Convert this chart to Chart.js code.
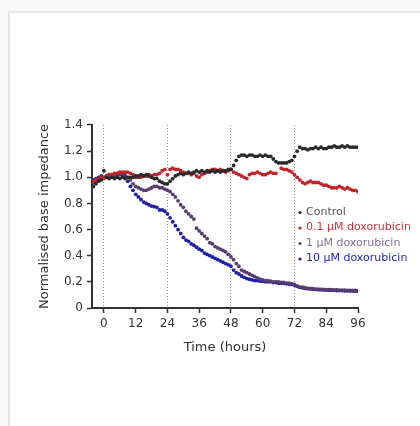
<!DOCTYPE html>
<html>
<head>
<meta charset="utf-8">
<script src="https://cdn.jsdelivr.net/npm/chart.js@4/dist/chart.umd.min.js"></script>
<style>
  html, body { margin: 0; padding: 0; background: #f8f8f8; overflow: hidden; }
  #panel { position: absolute; left: 8px; top: 11px; width: 430px; height: 430px;
           background: #ffffff; border-left: 2px solid #e4e7e6; border-top: 2px solid #e4e7e6; }
  #c { position: absolute; left: 0; top: 0; }
</style>
</head>
<body>
<div id="panel"></div>
<canvas id="c" width="420" height="426"></canvas>
<script>
// ---- data (time in hours, normalised base impedance) ----
const times = [-4,-3,-2,-1,0,1,2,3,4,5,6,7,8,9,10,11,12,13,14,15,16,17,18,19,20,21,22,23,24,25,26,27,28,29,30,31,32,33,34,35,36,37,38,39,40,41,42,43,44,45,46,47,48,49,50,51,52,53,54,55,56,57,58,59,60,61,62,63,64,65,66,67,68,69,70,71,72,73,74,75,76,77,78,79,80,81,82,83,84,85,86,87,88,89,90,91,92,93,94,95,96];

const control = [0.93,0.95,0.97,0.98,1.05,1.00,0.99,1.00,0.99,1.00,0.99,1.00,0.99,1.00,1.00,1.00,1.01,1.01,1.02,1.01,1.02,1.01,1.00,0.99,0.99,0.97,0.96,0.95,0.95,0.97,0.99,1.01,1.02,1.03,1.02,1.03,1.04,1.03,1.04,1.05,1.04,1.05,1.04,1.05,1.04,1.05,1.04,1.05,1.04,1.05,1.05,1.06,1.06,1.09,1.13,1.16,1.17,1.17,1.16,1.17,1.17,1.16,1.16,1.17,1.16,1.17,1.16,1.16,1.14,1.12,1.11,1.11,1.11,1.11,1.12,1.13,1.16,1.20,1.23,1.22,1.22,1.21,1.22,1.22,1.23,1.22,1.23,1.22,1.22,1.23,1.23,1.24,1.23,1.23,1.24,1.23,1.24,1.23,1.23,1.23,1.23];

const dox01 = [0.97,0.98,0.99,1.00,0.99,1.01,1.02,1.02,1.03,1.03,1.04,1.04,1.04,1.04,1.03,1.02,1.00,1.00,1.00,1.01,1.01,1.02,1.01,1.02,1.02,1.03,1.05,1.06,1.02,1.06,1.07,1.06,1.06,1.05,1.04,1.03,1.03,1.02,1.03,1.01,1.00,1.02,1.03,1.04,1.05,1.06,1.06,1.05,1.06,1.05,1.04,1.05,1.06,1.04,1.03,1.02,1.01,1.00,0.99,1.02,1.03,1.03,1.04,1.03,1.02,1.02,1.03,1.04,1.03,1.03,null,1.07,1.06,1.06,1.05,1.04,1.02,1.00,0.98,0.96,0.95,0.96,0.97,0.96,0.96,0.96,0.95,0.94,0.94,0.93,0.92,0.92,0.92,0.93,0.92,0.91,0.92,0.91,0.90,0.90,0.89];

const dox1 = [0.96,0.97,0.99,0.99,1.00,1.00,1.01,1.00,1.01,1.01,1.02,1.03,1.02,1.00,0.98,0.95,0.93,0.92,0.91,0.90,0.90,0.91,0.92,0.93,0.93,0.92,0.92,0.91,0.90,0.89,0.87,0.85,0.82,0.79,0.77,0.74,0.72,0.70,0.68,0.61,0.59,0.57,0.55,0.53,0.50,0.49,0.47,0.46,0.45,0.44,0.43,0.41,0.39,0.37,0.34,0.32,0.29,0.28,0.27,0.26,0.25,0.24,0.23,0.22,0.215,0.21,0.21,0.205,0.20,0.20,0.20,0.195,0.195,0.19,0.19,0.185,0.18,0.17,0.16,0.16,0.155,0.15,0.15,0.148,0.145,0.145,0.143,0.142,0.14,0.14,0.14,0.138,0.138,0.137,0.136,0.136,0.135,0.135,0.134,0.134,0.133];

const dox10 = [0.98,0.99,1.00,1.01,1.00,1.01,1.02,1.02,1.02,1.03,1.03,1.02,1.00,0.97,0.93,0.90,0.87,0.85,0.83,0.81,0.80,0.79,0.78,0.775,0.77,0.75,0.75,0.74,0.72,0.69,0.66,0.63,0.60,0.57,0.54,0.52,0.51,0.49,0.48,0.465,0.45,0.44,0.42,0.41,0.40,0.39,0.38,0.37,0.36,0.35,0.34,0.33,0.32,0.29,0.27,0.26,0.245,0.235,0.225,0.22,0.215,0.21,0.21,0.205,0.205,0.20,0.20,0.20,0.195,0.195,0.19,0.19,0.188,0.185,0.183,0.18,0.175,0.165,0.158,0.155,0.15,0.148,0.146,0.144,0.142,0.14,0.14,0.138,0.137,0.136,0.135,0.135,0.134,0.133,0.133,0.132,0.132,0.131,0.131,0.13,0.13];

const seriesNames = ['Control', '0.1 \u03bcM doxorubicin', '1 \u03bcM doxorubicin', '10 \u03bcM doxorubicin'];
const xTicks = [0, 12, 24, 36, 48, 60, 72, 84, 96];
const markerLines = [0, 24, 48, 72];
const yTickLabels = ['0', '0.2', '0.4', '0.6', '0.8', '1.0', '1.2', '1.4'];

// ---- styling ----
const pointColors = ['#2a2a2a', '#c1242c', '#573c70', '#1d1fa6'];
const textColors = ['#555555', '#cf2f38', '#866f95', '#2326b5'];
const FONT = "'DejaVu Sans', sans-serif";

const toPoints = vals => times.map((t, i) => ({ x: t, y: vals[i] })).filter(p => p.y !== null);

const datasets = [control, dox01, dox1, dox10].map((vals, i) => ({
  label: seriesNames[i],
  data: toPoints(vals),
  showLine: false,
  pointRadius: 1.9,
  pointBorderWidth: 0,
  pointBackgroundColor: pointColors[i],
  borderColor: pointColors[i],
  backgroundColor: pointColors[i]
}));

const legendPlugin = {
  id: 'innerLegend',
  afterDatasetsDraw(chart) {
    const ctx = chart.ctx;
    ctx.save();
    ctx.font = '11px ' + FONT;
    ctx.textBaseline = 'middle';
    chart.data.datasets.forEach((ds, i) => {
      const y = 212 + i * 15.5;
      ctx.fillStyle = pointColors[i];
      ctx.beginPath();
      ctx.arc(300, y + 0.5, 1.6, 0, Math.PI * 2);
      ctx.fill();
      ctx.fillStyle = textColors[i];
      ctx.fillText(ds.label, 306, y);
    });
    ctx.restore();
  }
};

new Chart(document.getElementById('c'), {
  type: 'scatter',
  data: { datasets },
  plugins: [legendPlugin],
  options: {
    responsive: false,
    animation: false,
    devicePixelRatio: 1,
    layout: { padding: { left: 0, top: 125, right: 62, bottom: 60 } },
    plugins: { legend: { display: false }, tooltip: { enabled: false } },
    scales: {
      x: {
        type: 'linear',
        min: -4.5,
        max: 96,
        afterBuildTicks: s => { s.ticks = xTicks.map(v => ({ value: v })); },
        afterFit: s => { s.height = 58; },
        grid: {
          drawOnChartArea: true,
          color: c => (c.tick && markerLines.includes(c.tick.value)) ? '#9c9c9c' : 'rgba(0,0,0,0)',
          lineWidth: 1,
          tickLength: 5,
          tickColor: '#333333',
          tickWidth: 1.5
        },
        border: { display: true, color: '#333333', width: 2, dash: [1, 2] },
        ticks: { color: '#333333', font: { family: FONT, size: 12 }, padding: 4, maxRotation: 0, autoSkip: false },
        title: { display: true, text: 'Time (hours)', color: '#333333', font: { family: FONT, size: 13 }, padding: { top: 0, bottom: 11 } }
      },
      y: {
        type: 'linear',
        min: 0,
        max: 1.4,
        afterBuildTicks: s => { s.ticks = yTickLabels.map((l, i) => ({ value: i * 0.2 })); },
        afterFit: s => { s.width = 92; },
        grid: { drawOnChartArea: false, tickLength: 5, tickColor: '#333333', tickWidth: 1.5 },
        border: { display: true, color: '#333333', width: 2 },
        ticks: {
          color: '#333333', font: { family: FONT, size: 12 }, padding: 4, autoSkip: false,
          callback: (v, i) => yTickLabels[i]
        },
        title: { display: true, text: 'Normalised base impedance', color: '#333333', font: { family: FONT, size: 13 }, padding: { top: 37, bottom: 0 } }
      }
    }
  }
});
</script>
</body>
</html>
